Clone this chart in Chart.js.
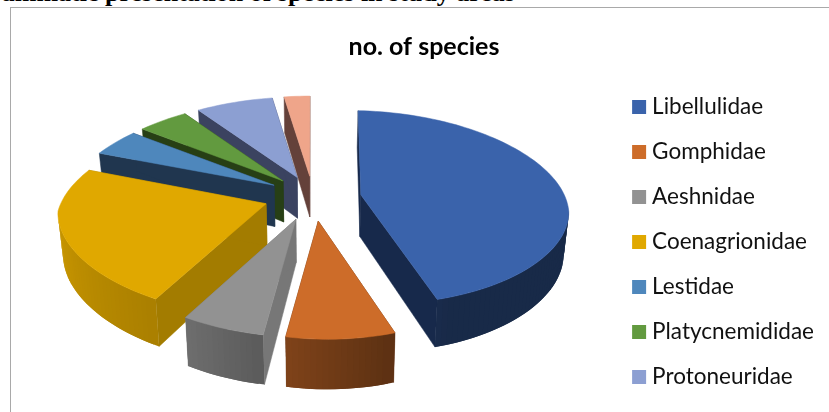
<!DOCTYPE html>
<html>
<head>
<meta charset="utf-8">
<title>no. of species</title>
<style>
  html, body { margin: 0; padding: 0; background: #fff; overflow: hidden; width: 829px; height: 412px; }
  #caption {
    position: absolute; left: -300px; top: -22px; width: 815px; text-align: right; white-space: nowrap;
    font: bold 26px "Liberation Serif", serif; color: #000;
  }
  #frame {
    position: absolute; left: 10px; top: 7px; width: 830px; height: 470px;
    border-left: 1px solid #a9a9a9; border-top: 1px solid #a9a9a9; background: #fff;
  }
</style>
<script src="https://cdn.jsdelivr.net/npm/chart.js@4"></script>
</head>
<body>
<div id="caption">Diagrammatic presentation of species in study areas</div>
<div id="frame"><canvas id="chart-species" width="827" height="468"></canvas></div>
<script>
const families = [
  "Libellulidae",
  "Gomphidae",
  "Aeshnidae",
  "Coenagrionidae",
  "Lestidae",
  "Platycnemididae",
  "Protoneuridae",
  "",
];
const speciesCount = [21, 4, 3, 11, 2, 2, 3, 1];

const topColors = ["#3a63ab", "#cd6c29", "#929292", "#e0a800", "#4e87bc", "#629a3f", "#8c9fd2", "#efa58a"];
const cutColors = ["#17294b", "#5e2e12", "#777777", "#a37c00", "#20364f", "#273f15", "#3b4360", "#64413a"];

// tilt of the disc, in px. widthPerspective narrows the back half only
const view = {
  radiusX: 208,
  radiusY: 96,
  widthPerspective: 0.06,
  heightPerspective: 0.131,
  depth: 42,
  floorScale: 0.98,
  shiftX: -6.5,
  liftY: -77,
  sideDrop: 9, // the rim sags towards the left and right ends
  frontLean: 9, // the front of the disc leans to the right
};

// how dark the rim gets, by the direction it faces (degrees clockwise from the back)
const rimShade = [[90, 0.42], [155, 0.42], [190, 0.62], [214, 0.76], [270, 0.9]];

function shadeAt(deg) {
  for (let i = 1; i < rimShade.length; i++) {
    if (deg <= rimShade[i][0]) {
      const a = rimShade[i - 1], b = rimShade[i];
      return a[1] + ((b[1] - a[1]) * (deg - a[0])) / (b[0] - a[0]);
    }
  }
  return 0.9;
}

function darken(hex, k) {
  const n = parseInt(hex.slice(1), 16);
  const c = (v) => Math.round(v * k);
  return `rgb(${c((n >> 16) & 255)},${c((n >> 8) & 255)},${c(n & 255)})`;
}

function polygon(ctx, points, color, edge = 0.5) {
  ctx.beginPath();
  points.forEach((p, i) => (i ? ctx.lineTo(p.x, p.y) : ctx.moveTo(p.x, p.y)));
  ctx.closePath();
  ctx.fillStyle = color;
  ctx.fill();
  if (edge) {
    ctx.strokeStyle = color;
    ctx.lineWidth = edge;
    ctx.stroke();
  }
}

// the pie controller lays the slices out flat, this draws them as a tilted exploded disc
const tiltedPie = {
  id: "tiltedPie",
  beforeDatasetsDraw(chart) {
    const ctx = chart.ctx;
    const arcs = chart.getDatasetMeta(0).data;

    const slices = arcs.map((arc, index) => {
      const mid = (arc.startAngle + arc.endAngle) / 2;
      const R = arc.outerRadius;
      const shiftX = Math.cos(mid) * arc.options.offset;
      const shiftY = Math.sin(mid) * arc.options.offset;

      const project = (angle, r, low) => {
        const u = (shiftX + r * Math.cos(angle)) / R;
        const v = (shiftY + r * Math.sin(angle)) / R;
        const w = 1 - view.heightPerspective * v;
        const k = low ? view.floorScale : 1;
        return {
          x:
            arc.x +
            view.shiftX +
            view.frontLean * Math.max(0, v) +
            (k * view.radiusX * u) / (1 - view.widthPerspective * Math.min(0, v)),
          y: arc.y + view.liftY + view.sideDrop * u * u + (view.radiusY * v + (low ? view.depth : 0)) / w,
        };
      };
      return { arc, index, R, project, depthOrder: shiftY };
    });

    // back slices first
    slices.sort((a, b) => a.depthOrder - b.depthOrder);

    slices.forEach(({ arc, index, R, project }) => {
      const sweep = arc.endAngle - arc.startAngle;
      const steps = Math.max(4, Math.ceil(sweep / 0.03));
      const top = [project(0, 0)];
      const angleAt = (i) => arc.startAngle + (sweep * Math.min(i, steps)) / steps;

      [arc.startAngle, arc.endAngle].forEach((a) => {
        polygon(ctx, [project(a, 0), project(a, R), project(a, R, true), project(a, 0, true)], cutColors[index]);
      });

      // rim strips overlap the next one so no seams show between them, the back of the rim is hidden anyway
      for (let i = steps - 1; i >= 0; i--) {
        const a = angleAt(i);
        const b = angleAt(i + 2);
        const facing = (((a + sweep / steps / 2 + Math.PI / 2) * 180) / Math.PI + 360) % 360;
        if (facing < 90 || facing > 270) continue;
        polygon(
          ctx,
          [project(a, R), project(b, R), project(b, R, true), project(a, R, true)],
          darken(topColors[index], shadeAt(facing)),
          0
        );
      }
      for (let i = 0; i <= steps; i++) {
        top.push(project(angleAt(i), R));
      }
      polygon(ctx, top, topColors[index]);
    });
    return false;
  },
};

const config = {
  type: "pie",
  data: {
    labels: families,
    datasets: [
      {
        label: "no. of species",
        data: speciesCount,
        backgroundColor: topColors,
        // also fattens the legend swatches, which sit closer to their text than boxWidth allows
        borderColor: topColors,
        borderWidth: 10.5,
        offset: 41,
      },
    ],
  },
  options: {
    responsive: false,
    animation: false,
    layout: { padding: { left: 13, right: 14 } },
    plugins: {
      tooltip: { enabled: false },
      title: {
        display: true,
        text: "no. of species",
        color: "#000",
        font: { family: "Lato", size: 25, weight: "bold" },
        padding: { top: 24, bottom: 12 },
      },
      legend: {
        position: "right",
        align: "center",
        labels: {
          color: "#111",
          font: { family: "Lato", size: 22.5 },
          boxWidth: 3.5,
          boxHeight: 3.5,
          padding: 22.5,
          filter: (item) => item.text !== "",
        },
      },
    },
  },
  plugins: [tiltedPie],
};

new Chart(document.getElementById("chart-species"), config);
</script>
</body>
</html>
